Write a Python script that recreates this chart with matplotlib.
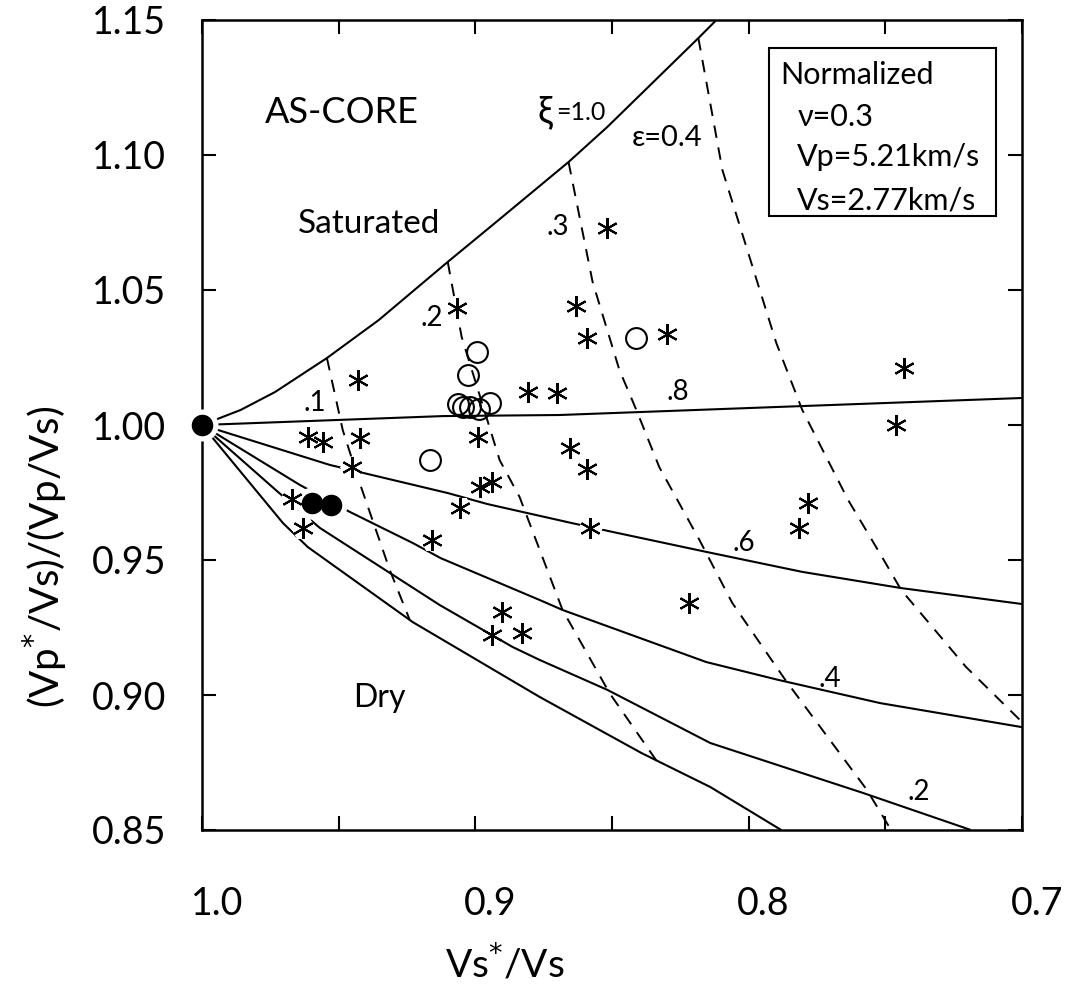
import matplotlib
matplotlib.use("Agg")
import matplotlib.pyplot as plt
from matplotlib.patches import Rectangle
from matplotlib.transforms import ScaledTranslation

plt.rcParams['font.family'] = ['Lato', 'DejaVu Sans']
plt.rcParams['lines.scale_dashes'] = False

# ---- model curves: constant saturation xi (solid) ----
xi10_x = [1.0, 0.9858, 0.9733, 0.9543, 0.9353, 0.9101, 0.8915, 0.8765, 0.8659, 0.8517, 0.8184, 0.8118]
xi10_y = [1.0, 1.0056, 1.0122, 1.0248, 1.0389, 1.0604, 1.0759, 1.0885, 1.0974, 1.1104, 1.1433, 1.15]

xi08_x = [1.0, 0.9119, 0.8692, 0.7888, 0.70]
xi08_y = [1.0, 1.0033, 1.0037, 1.0067, 1.0100]

xi06_x = [1.0, 0.9532, 0.9379, 0.9101, 0.8955, 0.8648, 0.8498, 0.8155, 0.7804, 0.7442, 0.70]
xi06_y = [1.0, 0.9852, 0.9815, 0.9748, 0.9707, 0.9637, 0.9604, 0.9530, 0.9456, 0.9396, 0.9337]

xi04_x = [1.0, 0.9642, 0.9459, 0.9229, 0.9127, 0.8765, 0.8681, 0.8155, 0.7892, 0.7519, 0.70]
xi04_y = [1.0, 0.9778, 0.9678, 0.9563, 0.9507, 0.9352, 0.9315, 0.9122, 0.9056, 0.8970, 0.8881]

xi02_x = [1.0, 0.9722, 0.9569, 0.9130, 0.8864, 0.8765, 0.8517, 0.8140, 0.7581, 0.7187]
xi02_y = [1.0, 0.9752, 0.9619, 0.9333, 0.9178, 0.9130, 0.9019, 0.8822, 0.8637, 0.85]

xi00_x = [1.0, 0.9704, 0.9613, 0.9229, 0.8765, 0.8392, 0.8140, 0.7881]
xi00_y = [1.0, 0.9637, 0.9548, 0.9270, 0.8993, 0.8785, 0.8659, 0.85]

# ---- model curves: constant crack density epsilon (dashed) ----
eps01_x = [0.9543, 0.9485, 0.9423, 0.9313, 0.9240]
eps01_y = [1.0248, 0.9981, 0.9785, 0.9463, 0.9278]

eps02_x = [0.9101, 0.9050, 0.8911, 0.8838, 0.8681, 0.8509, 0.8334]
eps02_y = [1.0604, 1.0326, 0.9870, 0.9733, 0.9315, 0.9007, 0.8752]

eps03_x = [0.8659, 0.8571, 0.8473, 0.8411, 0.8327, 0.8180, 0.8060, 0.7866, 0.7567, 0.7479]
eps03_y = [1.0974, 1.0530, 1.0204, 1.0056, 0.9844, 0.9574, 0.9341, 0.9056, 0.8648, 0.85]

eps04_x = [0.8184, 0.8096, 0.7899, 0.7804, 0.7636, 0.7512, 0.7442, 0.7205, 0.70]
eps04_y = [1.1433, 1.0944, 1.0304, 1.0056, 0.9722, 0.9511, 0.9389, 0.9104, 0.8900]

# ---- measurements ----
star_x = [0.943, 0.9613, 0.9558, 0.9423, 0.9452, 0.9671, 0.9631, 0.9160, 0.9057, 0.9068,
          0.8520, 0.8630, 0.8590, 0.8297, 0.8992, 0.8809, 0.8703, 0.8655, 0.8590, 0.8984,
          0.8940, 0.8582, 0.8217, 0.8904, 0.8940, 0.8831, 0.7431, 0.7461, 0.7782, 0.7815]
star_y = [1.0167, 0.9956, 0.9937, 0.9952, 0.9844, 0.9726, 0.9619, 0.9574, 0.9693, 1.0433,
          1.0730, 1.0441, 1.0322, 1.0337, 0.9956, 1.0122, 1.0119, 0.9915, 0.9837, 0.9770,
          0.9789, 0.9619, 0.9341, 0.9307, 0.9222, 0.9230, 1.0211, 1.0000, 0.9711, 0.9619]

open_x = [0.8995, 0.9028, 0.9065, 0.9046, 0.9021, 0.8988, 0.8948, 0.8411, 0.9167]
open_y = [1.0270, 1.0185, 1.0078, 1.0067, 1.0067, 1.0059, 1.0081, 1.0322, 0.9870]

filled_x = [1.0, 0.9598, 0.9529]
filled_y = [1.0, 0.9711, 0.9704]

W, H, DPI = 1075, 986, 100
fig = plt.figure(figsize=(W / DPI, H / DPI), dpi=DPI)
ax = fig.add_axes([202 / W, 1 - 830 / H, (1022 - 202) / W, (830 - 20) / H])
ax.set_xlim(1.0, 0.7)
ax.set_ylim(0.85, 1.15)

solid = dict(color='black', lw=1.5, solid_capstyle='butt', solid_joinstyle='round')
for xs, ys in [(xi10_x, xi10_y), (xi08_x, xi08_y), (xi06_x, xi06_y),
               (xi04_x, xi04_y), (xi02_x, xi02_y), (xi00_x, xi00_y)]:
    ax.plot(xs, ys, **solid)

dashed = dict(color='black', lw=1.4, dashes=(9, 7))
for xs, ys in [(eps01_x, eps01_y), (eps02_x, eps02_y),
               (eps03_x, eps03_y), (eps04_x, eps04_y)]:
    ax.plot(xs, ys, **dashed)

# white clearance round the symbols, then the symbols themselves
asterisk = (6, 2, 0)
ax.plot(star_x, star_y, ls='none', marker=asterisk, ms=15, mew=9, mec='white', zorder=4)
ax.plot(filled_x, filled_y, ls='none', marker='o', ms=15, mfc='white', mec='white', mew=8,
        zorder=4, clip_on=False)
ax.plot(star_x, star_y, ls='none', marker=asterisk, ms=15, mew=1.5, mec='black', zorder=5)
ax.plot(open_x, open_y, ls='none', marker='o', ms=15, mfc='none', mec='black', mew=1.5, zorder=5)
ax.plot(filled_x, filled_y, ls='none', marker='o', ms=14.5, mfc='black', mec='black', zorder=6,
        clip_on=False)

# annotations
ax.text(0.9488, 1.1159, 'AS-CORE', fontsize=26, ha='center', va='center')
ax.text(0.939, 1.0744, 'Saturated', fontsize=24, ha='center', va='center')
ax.text(0.935, 0.8989, 'Dry', fontsize=23, ha='center', va='center')
ax.text(0.8745, 1.1159, 'ξ', fontsize=27, ha='center', va='center')
ax.text(0.8705, 1.1159, '=1.0', fontsize=18, ha='left', va='center')
ax.text(0.8297, 1.1063, 'ε=0.4', fontsize=21, ha='center', va='center')
for lx, ly, s in [(0.9587, 1.0081, '.1'), (0.916, 1.0396, '.2'), (0.8699, 1.0733, '.3'),
                  (0.8261, 1.0122, '.8'), (0.8016, 0.9563, '.6'), (0.7702, 0.9059, '.4'),
                  (0.7377, 0.8641, '.2')]:
    ax.text(lx, ly, s, fontsize=20, ha='center', va='center')

ax.add_patch(Rectangle((0.7095, 1.0774), 0.083, 0.0622, fill=False, lw=1.5, ec='black'))
for ty, s, lx in [(1.1296, 'Normalized', 0.7885), (1.1141, 'ν=0.3', 0.7819),
                  (1.0993, 'Vp=5.21km/s', 0.7822), (1.0833, 'Vs=2.77km/s', 0.7822)]:
    ax.text(lx, ty, s, fontsize=22, ha='left', va='center')

# axes and ticks
for sp in ax.spines.values():
    sp.set_linewidth(1.8)
ax.set_xticks([1.0, 0.9, 0.8, 0.7])
ax.set_xticklabels(['1.0', '0.9', '0.8', '0.7'])
ax.set_xticks([0.95, 0.85, 0.75], minor=True)
yt = [0.85, 0.90, 0.95, 1.00, 1.05, 1.10, 1.15]
ax.set_yticks(yt)
ax.set_yticklabels([f'{v:.2f}' for v in yt])
ax.tick_params(which='both', direction='in', length=10, width=1.5, top=True, right=True)
ax.tick_params(axis='x', which='major', labelsize=27, pad=40)
ax.tick_params(axis='y', which='major', labelsize=27, pad=26)
shift = ScaledTranslation(15 / DPI, 0, fig.dpi_scale_trans)
for lab in ax.get_xticklabels():
    lab.set_transform(lab.get_transform() + shift)

ax.set_xlabel('Vs$^{*}$/Vs', fontsize=28)
ax.xaxis.set_label_coords((505 - 202) / 820, (830 - 963) / 810)
ax.xaxis.label.set_va('center')
ax.set_ylabel('(Vp$^{*}$/Vs)/(Vp/Vs)', fontsize=29)
ax.yaxis.set_label_coords((45 - 202) / 820, (830 - 557) / 810)
ax.yaxis.label.set_va('center')

fig.savefig('out.png', dpi=DPI)
